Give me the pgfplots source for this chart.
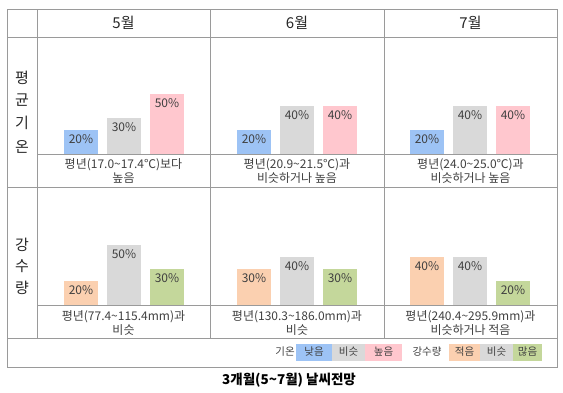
\documentclass[border=0pt]{standalone}
\usepackage{fontspec}
\setmainfont{Noto Sans CJK KR}
\usepackage{pgfplots}
\pgfplotsset{compat=1.18}
\definecolor{cblue}{HTML}{9DC3F5}
\definecolor{cgray}{HTML}{D9D9D9}
\definecolor{cpink}{HTML}{FFC7CE}
\definecolor{corange}{HTML}{FBD0B0}
\definecolor{cgreen}{HTML}{C4D79B}
\definecolor{lgray}{HTML}{9A9A9A}
\definecolor{txt}{HTML}{404040}
\pgfplotsset{panel/.style={scale only axis, width=173pt, height=72pt,
  xmin=0, xmax=173, ymin=0, ymax=60, hide axis, ybar, bar width=34,
  bar shift=0pt, clip=false, anchor=south west,
  /pgf/number format/assume math mode=true,
  nodes near coords={\pgfmathprintnumber{\pgfplotspointmeta}\%},
  nodes near coords align={below},
  every node near coord/.append style={font=\fontsize{12}{13}\selectfont, yshift=-1pt, text=txt}}}
\begin{document}
\begin{tikzpicture}[x=1pt,y=-1pt]
\path (0,0) rectangle (563,392);
\coordinate (t1) at (37,154);
\coordinate (t2) at (210,154);
\coordinate (t3) at (384,154);
\coordinate (r1) at (37,305);
\coordinate (r2) at (210,305);
\coordinate (r3) at (384,305);
% table lines
\begin{scope}[draw=lgray, line width=0.9pt]
\draw (7,9) rectangle (557,367);
\draw (7,37) -- (557,37);
\draw (37,154) -- (557,154);
\draw (7,187) -- (557,187);
\draw (37,305) -- (557,305);
\draw (7,338) -- (557,338);
\draw (37,9) -- (37,338);
\draw (210,9) -- (210,338);
\draw (384,9) -- (384,338);
\end{scope}
% headers
\begin{scope}[every node/.style={font=\fontsize{15}{17}\selectfont, text=black!85}]
\node at (123.5,23) {5월};
\node at (297,23) {6월};
\node at (470.5,23) {7월};
\node at (22,78) {평};
\node at (22,100) {균};
\node at (22,123) {기};
\node at (22,147) {온};
\node at (22,245) {강};
\node at (22,266) {수};
\node at (22,288) {량};
\end{scope}
% temperature panels
\begin{axis}[panel, at={(t1)}]
\addplot[fill=cblue, draw=none] coordinates {(44,20)};
\addplot[fill=cgray, draw=none] coordinates {(87,30)};
\addplot[fill=cpink, draw=none] coordinates {(130,50)};
\end{axis}
\begin{axis}[panel, at={(t2)}]
\addplot[fill=cblue, draw=none] coordinates {(44,20)};
\addplot[fill=cgray, draw=none] coordinates {(87,40)};
\addplot[fill=cpink, draw=none] coordinates {(130,40)};
\end{axis}
\begin{axis}[panel, at={(t3)}]
\addplot[fill=cblue, draw=none] coordinates {(43,20)};
\addplot[fill=cgray, draw=none] coordinates {(86,40)};
\addplot[fill=cpink, draw=none] coordinates {(129,40)};
\end{axis}
% precipitation panels
\begin{axis}[panel, at={(r1)}]
\addplot[fill=corange, draw=none] coordinates {(44,20)};
\addplot[fill=cgray, draw=none] coordinates {(87,50)};
\addplot[fill=cgreen, draw=none] coordinates {(130,30)};
\end{axis}
\begin{axis}[panel, at={(r2)}]
\addplot[fill=corange, draw=none] coordinates {(44,30)};
\addplot[fill=cgray, draw=none] coordinates {(87,40)};
\addplot[fill=cgreen, draw=none] coordinates {(130,30)};
\end{axis}
\begin{axis}[panel, at={(r3)}]
\addplot[fill=corange, draw=none] coordinates {(43,40)};
\addplot[fill=cgray, draw=none] coordinates {(86,40)};
\addplot[fill=cgreen, draw=none] coordinates {(129,20)};
\end{axis}
% descriptions
\begin{scope}[every node/.style={font=\fontsize{12}{14}\selectfont, text=txt, align=center}]
\node at (123.5,171) {평년(17.0\textasciitilde17.4℃)보다\\높음};
\node at (297,171) {평년(20.9\textasciitilde21.5℃)과\\비슷하거나 높음};
\node at (470.5,171) {평년(24.0\textasciitilde25.0℃)과\\비슷하거나 높음};
\node at (123.5,323) {평년(77.4\textasciitilde115.4mm)과\\비슷};
\node at (297,323) {평년(130.3\textasciitilde186.0mm)과\\비슷};
\node at (470.5,323) {평년(240.4\textasciitilde295.9mm)과\\비슷하거나 적음};
\end{scope}
% legend
\fill[cblue] (296,344) rectangle (332,361);
\fill[cgray] (332,344) rectangle (365,361);
\fill[cpink] (365,344) rectangle (402,361);
\fill[corange] (449,344) rectangle (480,361);
\fill[cgray] (480,344) rectangle (513,361);
\fill[cgreen] (513,344) rectangle (542,361);
\begin{scope}[every node/.style={font=\fontsize{10.5}{11}\selectfont, text=txt}]
\node at (285,352) {기온};
\node at (314,352) {낮음};
\node at (348.5,352) {비슷};
\node at (383.5,352) {높음};
\node at (427,352) {강수량};
\node at (464.5,352) {적음};
\node at (496.5,352) {비슷};
\node at (527.5,352) {많음};
\end{scope}
\node[font=\bfseries\fontsize{13.5}{15}\selectfont, text=black] at (289,380) {3개월(5\textasciitilde7월) 날씨전망};
\end{tikzpicture}
\end{document}
